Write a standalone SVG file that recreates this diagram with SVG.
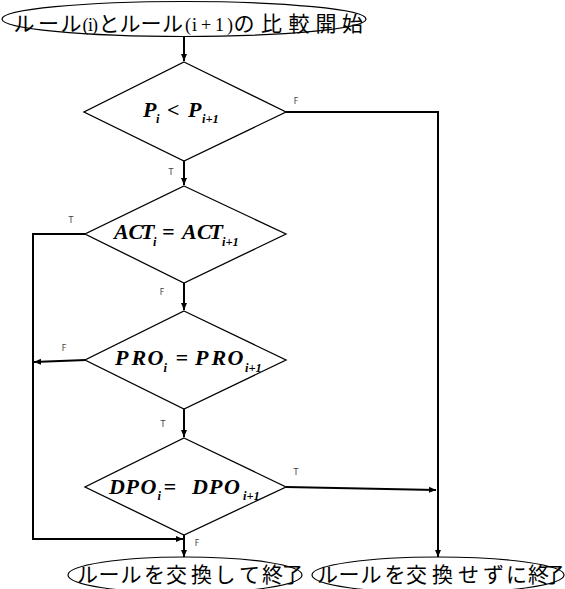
<svg xmlns="http://www.w3.org/2000/svg" width="565" height="589" viewBox="0 0 565 589">
<style>
.term{fill:#fff;stroke:#000;stroke-width:1.2}
.dia{fill:#fff;stroke:#000;stroke-width:1.3}
.jp{font-family:"Noto Sans CJK JP","Noto Sans",sans-serif;font-size:21px;fill:#000}
.sr{font-family:"Liberation Serif",serif;font-size:18px;fill:#000}
.m{font-family:"Liberation Serif",serif;font-weight:bold;font-style:italic;font-size:22px;fill:#000}
.s{font-family:"Liberation Serif",serif;font-weight:bold;font-style:italic;font-size:12.5px;fill:#000}
.lb{font-family:"DejaVu Sans",sans-serif;font-size:8px;fill:#444;text-anchor:middle}
.c{fill:none;stroke:#000;stroke-width:2}
</style>
<defs>
<marker id="ah" markerWidth="8" markerHeight="8" refX="7" refY="4" orient="auto" markerUnits="userSpaceOnUse">
<path d="M0,1 L7,4 L0,7 Z" fill="#000"/>
</marker>
</defs>
<g id="connectors">
<path class="c" d="M184,36 V61" marker-end="url(#ah)"/>
<path class="c" d="M184,161 V185" marker-end="url(#ah)"/>
<path class="c" d="M286,112 H438 V557" marker-end="url(#ah)"/>
<path class="c" d="M85,234 H33 V539 H183" marker-end="url(#ah)"/>
<path class="c" d="M184,283 V310" marker-end="url(#ah)"/>
<path class="c" d="M86,360 L34,362" marker-end="url(#ah)"/>
<path class="c" d="M184,409 V437" marker-end="url(#ah)"/>
<path class="c" d="M286,487 L436,490" marker-end="url(#ah)"/>
<path class="c" d="M184,535 V557" marker-end="url(#ah)"/>
<text class="lb" x="296" y="104">F</text>
<text class="lb" x="171" y="175">T</text>
<text class="lb" x="71" y="223">T</text>
<text class="lb" x="162" y="295">F</text>
<text class="lb" x="64" y="351">F</text>
<text class="lb" x="163" y="427">T</text>
<text class="lb" x="296" y="475">T</text>
<text class="lb" x="197" y="546">F</text>
</g>
<g id="start">
<ellipse class="term" cx="184" cy="19" rx="182" ry="17.5"/>
<text class="jp" y="31"><tspan x="13.5 38 60.5">ルール</tspan><tspan class="sr" x="82.5 88 92">(i)</tspan><tspan x="98.5">と</tspan><tspan x="119.5 140.5 162">ルール</tspan><tspan class="sr" x="185 192 201 215 227">(i+1)</tspan><tspan x="233.5 261 288.5 315.5 342">の比較開始</tspan></text>
</g>
<g id="d1">
<polygon class="dia" points="184,62 286,112 184,161 84,112"/>
<text class="m" y="117"><tspan x="143">P</tspan><tspan x="167">&lt;</tspan><tspan x="188">P</tspan></text>
<text class="s" y="123"><tspan x="156">i</tspan><tspan x="202">i+1</tspan></text>
</g>
<g id="d2">
<polygon class="dia" points="184,186 286,234 184,283 85,234"/>
<text class="m" y="239"><tspan x="114 128.5 141">ACT</tspan><tspan x="162">=</tspan><tspan x="182 197 209.5">ACT</tspan></text>
<text class="s" y="246"><tspan x="153">i</tspan><tspan x="222">i+1</tspan></text>
</g>
<g id="d3">
<polygon class="dia" points="184,311 286,360 184,409 85,360"/>
<text class="m" y="365"><tspan x="115 131.5 147.5">PRO</tspan><tspan x="175.5">=</tspan><tspan x="195 211.5 227.5">PRO</tspan></text>
<text class="s" y="372"><tspan x="163.5">i</tspan><tspan x="245">i+1</tspan></text>
</g>
<g id="d4">
<polygon class="dia" points="184,438 286,487 184,535 85,487"/>
<text class="m" y="494"><tspan x="109 125.5 140.5">DPO</tspan><tspan x="163.5">=</tspan><tspan x="192 209 224">DPO</tspan></text>
<text class="s" y="500"><tspan x="157.5">i</tspan><tspan x="243">i+1</tspan></text>
</g>
<g id="end-swap">
<ellipse class="term" cx="185" cy="575" rx="117" ry="18"/>
<text class="jp" y="582" x="77 98.5 120.5 144 166 191 214.5 239 262 282">ルールを交換して終了</text>
</g>
<g id="end-noswap">
<ellipse class="term" cx="438" cy="575" rx="126" ry="18"/>
<text class="jp" y="582" x="317 338.5 360.5 384.5 406 432 458 483 506 528 543.5">ルールを交換せずに終了</text>
</g>
</svg>
